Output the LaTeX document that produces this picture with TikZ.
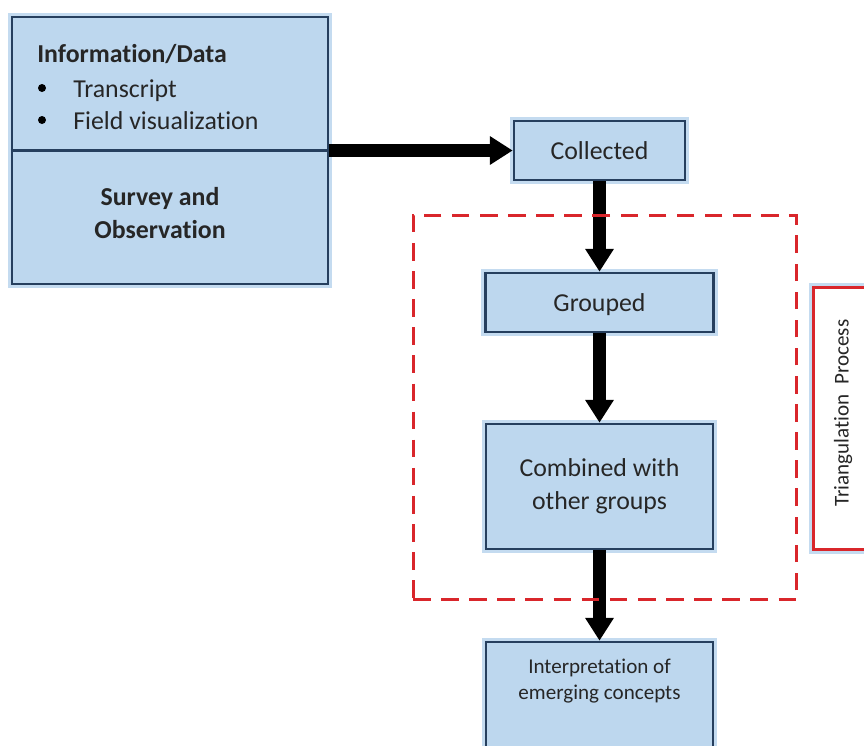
\documentclass[tikz,border=0pt]{standalone}
\usepackage{fontspec}
\setmainfont{Carlito}[Ligatures=NoCommon]
\usetikzlibrary{arrows.meta}
\definecolor{boxfill}{HTML}{BDD7EE}
\definecolor{boxline}{HTML}{263F5E}
\definecolor{glowblue}{HTML}{9DC3E6}
\definecolor{trired}{HTML}{D9262B}
\newcommand{\bigtext}{\fontsize{14.7}{18.7}\selectfont}
\newcommand{\smalltext}{\fontsize{12}{15.3}\selectfont}

\begin{document}
\begin{tikzpicture}[x=0.02cm, y=-0.02cm,
    box/.style={draw=boxline, fill=boxfill, line width=1.5pt,
        preaction={draw=glowblue, line width=5pt, opacity=0.6},
        inner sep=0pt, text=black!85, font=\bigtext, align=center},
    fatarrow/.style={line width=7.6pt, -{Triangle[length=13pt, width=15.5pt]}},
    lbl/.style={font=\bigtext, text=black!85, inner sep=0pt},
    dot/.style={circle, fill=black, minimum size=0.16cm, inner sep=0pt}]
  \useasboundingbox (0,0) rectangle (864,745);

  % Left box: data and its sources
  \node[box, minimum width=6.32cm, minimum height=5.34cm] (info) at (170,150.5) {};
  \draw[boxline, line width=1.2pt] (info.west) -- (info.east);
  \node[lbl, anchor=base west, font=\bigtext\bfseries] (title) at (37,62) {Information/Data};
  \node[dot] (dot1) at (42,88) {};
  \node[lbl, anchor=base west] (transcript) at (73,97) {Transcript};
  \node[dot] (dot2) at (42,120) {};
  \node[lbl, anchor=base west] (fieldvis) at (73,129) {Field visualization};
  \node[lbl, anchor=base, font=\bigtext\bfseries] (survey) at (160,205) {Survey and};
  \node[lbl, anchor=base, font=\bigtext\bfseries] (observ) at (160,238) {Observation};

  % Process boxes
  \node[box, minimum width=3.42cm, minimum height=1.18cm] (collected) at (599.5,150.5) {Collected};
  \node[box, minimum width=4.56cm, minimum height=1.18cm, text depth=0pt] (grouped) at (599.5,302.5) {Grouped};
  \node[box, minimum width=4.54cm, minimum height=2.5cm] (combined) at (599.5,486.5) {Combined with\\other groups};
  \node[box, minimum width=4.54cm, minimum height=2.56cm] (interp) at (599.5,706) {};
  \node[lbl, font=\smalltext, align=center] (interptext) at (599.5,681) {Interpretation of\\emerging concepts};

  % Arrows
  \draw[fatarrow] (info.east) -- (collected.west);
  \draw[fatarrow] (collected) -- (grouped);
  \draw[fatarrow] (grouped) -- (combined);
  \draw[fatarrow] (combined) -- (interp);

  % Triangulation frame
  \node[draw=trired, dash pattern=on 10pt off 6pt, line width=1.7pt, inner sep=0pt,
        minimum width=7.68cm, minimum height=7.7cm] (frame) at (605,407.5) {};
  \node[draw=trired, fill=white, line width=1.7pt, inner sep=0pt,
        preaction={draw=glowblue, line width=5pt, opacity=0.6},
        minimum width=1.74cm, minimum height=5.26cm] (triang) at (856.5,418.5) {};
  \node[lbl, font=\smalltext, rotate=90] (tritext) at (843,413) {Triangulation\ \ Process};
\end{tikzpicture}
\end{document}
